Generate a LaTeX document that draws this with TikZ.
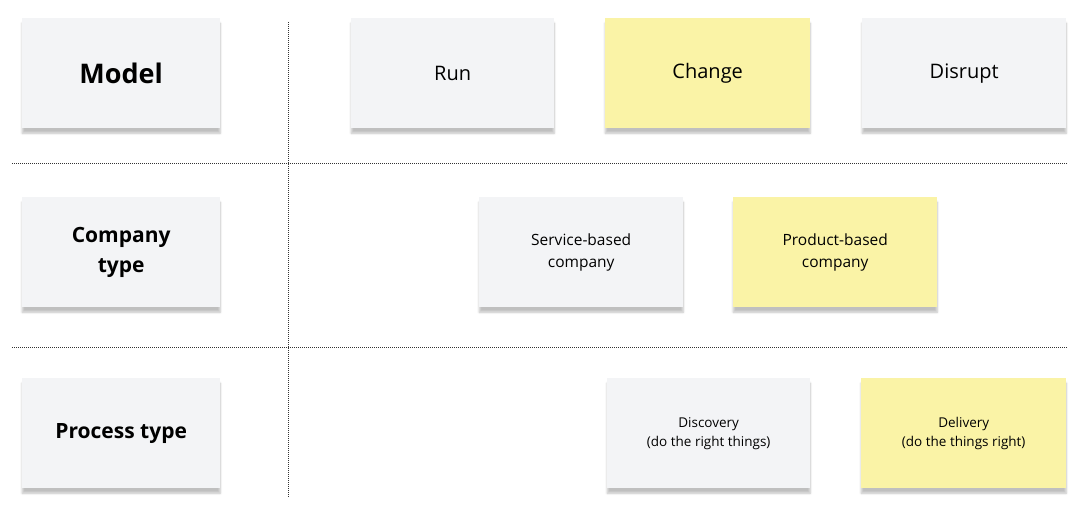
\documentclass[tikz,border=0pt]{standalone}
\usepackage{fontspec}
\setmainfont{Open Sans}
\usetikzlibrary{shadows.blur}
\definecolor{notegrey}{HTML}{F3F4F6}
\definecolor{noteyel}{HTML}{FAF3A6}
\begin{document}
\begin{tikzpicture}[x=1pt,y=-1pt,
  note/.style={minimum width=203pt,minimum height=110pt,anchor=north west,inner sep=0pt,align=center,
    blur shadow={shadow xshift=0pt,shadow yshift=-5pt,shadow blur steps=6,shadow opacity=25}},
  grey/.style={note,fill=notegrey},
  yel/.style={note,fill=noteyel},
  sep/.style={densely dotted,line width=1pt,black!80}]
\useasboundingbox (0,0) rectangle (1080,517);
\draw[sep] (288,22) -- (288,497);
\draw[sep] (12,163) -- (1068,163);
\draw[sep] (12,347) -- (1068,347);
\node[grey,minimum width=198pt,font=\fontsize{27}{32}\selectfont\bfseries] (model) at (22,18) {Model};
\node[grey,font=\fontsize{20}{24}\selectfont] (run) at (351,18) {Run};
\node[yel,minimum width=205pt,font=\fontsize{20}{24}\selectfont] (change) at (605,18) {Change};
\node[grey,minimum width=204pt,font=\fontsize{20}{24}\selectfont] (disrupt) at (862,18) {Disrupt};
\node[grey,minimum width=198pt,font=\fontsize{21}{30}\selectfont\bfseries] (ctype) at (22,197) {Company\\type};
\node[grey,minimum width=204pt,font=\fontsize{15.5}{22}\selectfont] (service) at (479,197) {Service-based\\company};
\node[yel,minimum width=204pt,font=\fontsize{15.5}{22}\selectfont] (product) at (733,197) {Product-based\\company};
\node[grey,minimum width=198pt,font=\fontsize{21}{30}\selectfont\bfseries] (ptype) at (22,378) {Process type};
\node[grey,font=\fontsize{13.5}{19}\selectfont] (disc) at (607,378) {Discovery\\(do the right things)};
\node[yel,minimum width=205pt,font=\fontsize{13.5}{19}\selectfont] (deliv) at (861,378) {Delivery\\(do the things right)};
\end{tikzpicture}
\end{document}
